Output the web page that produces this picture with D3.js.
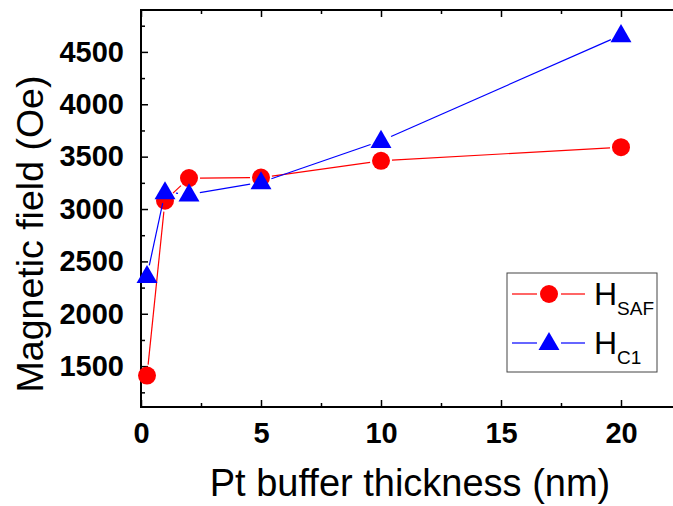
<!DOCTYPE html>
<html><head><meta charset="utf-8">
<script src="https://cdn.jsdelivr.net/npm/d3@7"></script>
<style>html,body{margin:0;padding:0;background:#fff;}svg{display:block;font-family:"Liberation Sans",Arial,sans-serif;}</style>
</head><body>
<svg id="c" width="673" height="506"></svg>
<script>
const thickness = [0.25, 1, 2, 5, 10, 20];
const hSAF = [1410, 3080, 3295, 3300, 3460, 3590];
const hC1  = [2360, 3160, 3140, 3255, 3650, 4660];
const xTicks = [0, 5, 10, 15, 20];
const yTicks = [1500, 2000, 2500, 3000, 3500, 4000, 4500];
const seriesNames = ["SAF", "C1"];

const svg = d3.select("#c");
const L = 141, R = 681, T = 10, B = 407;
const x = d3.scaleLinear().domain([0, 22.5]).range([L, R]);
const y = d3.scaleLinear().domain([1110, 4900]).range([B, T]);

// frame
svg.append("rect").attr("x", L).attr("y", T).attr("width", R - L).attr("height", B - T)
  .attr("fill", "none").attr("stroke", "#000").attr("stroke-width", 2);

const xMinor = d3.range(2.5, 22.5, 5);
const yMinor = d3.range(1250, 4900, 500);
function axisGroup(axis, tx, ty) {
  const g = svg.append("g").attr("transform", `translate(${tx},${ty})`).call(axis);
  g.select(".domain").remove();
  g.selectAll("line").attr("stroke", "#000").attr("stroke-width", 1.5);
  return g;
}
// bottom axis (ticks inside)
const gxb = axisGroup(d3.axisBottom(x).tickValues(xTicks).tickSize(-7).tickPadding(15).tickFormat(d3.format("d")), 0, B);
gxb.selectAll("text").attr("font-size", 29).attr("font-weight", "bold").attr("fill", "#000");
axisGroup(d3.axisBottom(x).tickValues(xMinor).tickSize(-4).tickFormat(""), 0, B);
axisGroup(d3.axisTop(x).tickValues(xTicks).tickSize(-7).tickFormat(""), 0, T);
axisGroup(d3.axisTop(x).tickValues(xMinor).tickSize(-4).tickFormat(""), 0, T);
// left axis
const gyl = axisGroup(d3.axisLeft(y).tickValues(yTicks).tickSize(-7).tickPadding(17).tickFormat(d3.format("d")), L, 0);
gyl.selectAll("text").attr("font-size", 29).attr("font-weight", "bold").attr("fill", "#000");
axisGroup(d3.axisLeft(y).tickValues(yMinor).tickSize(-4).tickFormat(""), L, 0);

// axis titles
svg.append("text").attr("x", 410).attr("y", 496).attr("text-anchor", "middle")
  .attr("font-size", 38).attr("fill", "#000").text("Pt buffer thickness (nm)");
svg.append("text").attr("transform", "translate(43,234) rotate(-90)").attr("text-anchor", "middle")
  .attr("font-size", 37.5).attr("fill", "#000").text("Magnetic field (Oe)");

// series
const series = [
  {vals: hSAF, color: "#ff0000", shape: "circle"},
  {vals: hC1, color: "#0000ff", shape: "triangle"}
];
const triSym = d3.symbol().type(d3.symbolTriangle).size(190);
function marker(g, cx, cy, s) {
  if (s.shape === "circle") {
    g.append("circle").attr("cx", cx).attr("cy", cy).attr("r", 9).attr("fill", s.color);
  } else {
    g.append("path").attr("d", triSym()).attr("transform", `translate(${cx},${cy + 1})`).attr("fill", s.color);
  }
}
series.forEach(s => {
  const g = svg.append("g");
  const pts = thickness.map((t, i) => [x(t), y(s.vals[i])]);
  const gap = 11;
  for (let i = 0; i < pts.length - 1; i++) {
    const [x1, y1] = pts[i], [x2, y2] = pts[i + 1];
    const d = Math.hypot(x2 - x1, y2 - y1);
    if (d <= 2 * gap) continue;
    const ux = (x2 - x1) / d, uy = (y2 - y1) / d;
    g.append("line").attr("x1", x1 + ux * gap).attr("y1", y1 + uy * gap)
      .attr("x2", x2 - ux * gap).attr("y2", y2 - uy * gap)
      .attr("stroke", s.color).attr("stroke-width", 1.2);
  }
  pts.forEach(p => marker(g, p[0], p[1], s));
});

// legend
const lg = svg.append("g");
lg.append("rect").attr("x", 507).attr("y", 273).attr("width", 150).attr("height", 99)
  .attr("fill", "#fff").attr("stroke", "#444").attr("stroke-width", 1);
series.forEach((s, i) => {
  const cy = 294 + i * 49;
  lg.append("line").attr("x1", 512).attr("x2", 537).attr("y1", cy).attr("y2", cy).attr("stroke", s.color).attr("stroke-width", 1.2);
  lg.append("line").attr("x1", 561).attr("x2", 585).attr("y1", cy).attr("y2", cy).attr("stroke", s.color).attr("stroke-width", 1.2);
  marker(lg, 549, cy, s);
  const t = lg.append("text").attr("x", 594).attr("y", cy + 11).attr("font-size", 32).attr("fill", "#000");
  t.append("tspan").text("H");
  t.append("tspan").attr("font-size", 19).attr("dy", 10).text(seriesNames[i]);
});
</script>
</body></html>
